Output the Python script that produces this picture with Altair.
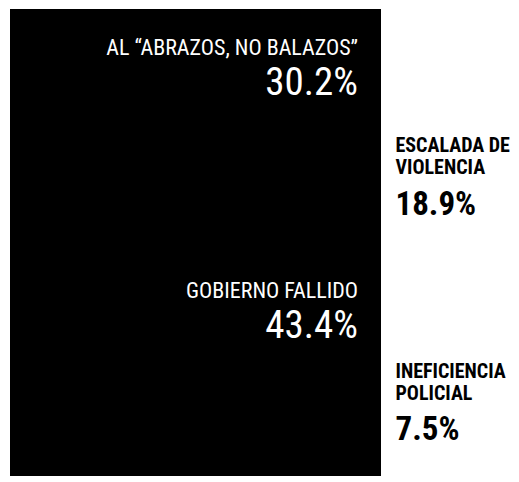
import altair as alt
import pandas as pd

# ---- data ----
categories = ["abrazos", "escalada", "gobierno", "ineficiencia"]
title_lines = [
    ["AL “ABRAZOS, NO BALAZOS”"],
    ["ESCALADA DE", "VIOLENCIA"],
    ["GOBIERNO FALLIDO"],
    ["INEFICIENCIA", "POLICIAL"],
]
values = [30.2, 18.9, 43.4, 7.5]
pct_labels = ["30.2%", "18.9%", "43.4%", "7.5%"]

df = pd.DataFrame({
    "group": ["total"] * len(categories),
    "cat": categories,
    "order": list(range(len(categories))),
    "value": values,
    "title": title_lines,
    "pct": pct_labels,
})

# ---- layout / style (not data) ----
FONT = "Roboto Condensed"
W, H = 371, 467
inside = {"abrazos", "gobierno"}
# (title dy, pct dy) relative to segment midpoint, in pixels
offsets = {
    "abrazos": (-24.5, 15.5),
    "escalada": (-42.2, 20.8),
    "gobierno": (-41.6, -1.6),
    "ineficiencia": (-80.5, -18.5),
}

base = alt.Chart(df)

xenc = alt.X("group:N", axis=None, scale=alt.Scale(paddingInner=0, paddingOuter=0))
yscale = alt.Scale(domain=[0, 100], reverse=True, nice=False, zero=True)

total = base.mark_bar(color="#000000").encode(
    x=xenc,
    y=alt.Y("sum(value):Q", scale=yscale, axis=None),
)

bars = base.mark_bar(color="#000000").encode(
    x=xenc,
    y=alt.Y("value:Q", stack="zero", scale=yscale, axis=None),
    order=alt.Order("order:Q"),
)

stacked = base.transform_window(
    cum="sum(value)", sort=[alt.SortField("order")], frame=[None, 0]
).transform_calculate(mid="datum.cum - datum.value / 2")

layers = [total, bars, total]
for cat in categories:
    is_in = cat in inside
    tdy, pdy = offsets[cat]
    color = "#ffffff" if is_in else "#000000"
    align = "right" if is_in else "left"
    dx = (348 - W / 2) if is_in else (385.5 - W / 2)
    sub = stacked.transform_filter(alt.datum.cat == cat)
    title = sub.mark_text(
        font=FONT,
        fontSize=22 if is_in else 20,
        fontWeight="normal" if is_in else "bold",
        color=color,
        align=align,
        baseline="alphabetic",
        lineHeight=22.5,
        dx=dx,
        dy=tdy,
    ).encode(
        x=xenc,
        y=alt.Y("mid:Q", scale=yscale, axis=None),
        text="title",
    )
    pct = sub.mark_text(
        font=FONT,
        fontSize=39 if is_in else 33,
        fontWeight="normal" if is_in else "bold",
        color=color,
        align=align,
        baseline="alphabetic",
        dx=dx,
        dy=pdy,
    ).encode(
        x=xenc,
        y=alt.Y("mid:Q", scale=yscale, axis=None),
        text="pct:N",
    )
    layers += [title, pct]

chart = alt.layer(*layers).properties(
    width=W,
    height=H,
    padding={"left": 2, "top": 1, "right": 130, "bottom": 0},
    autosize="none",
    background="#ffffff",
).configure_view(strokeWidth=0)

chart.save("out.html", embed_options={"renderer": "svg", "actions": False})
